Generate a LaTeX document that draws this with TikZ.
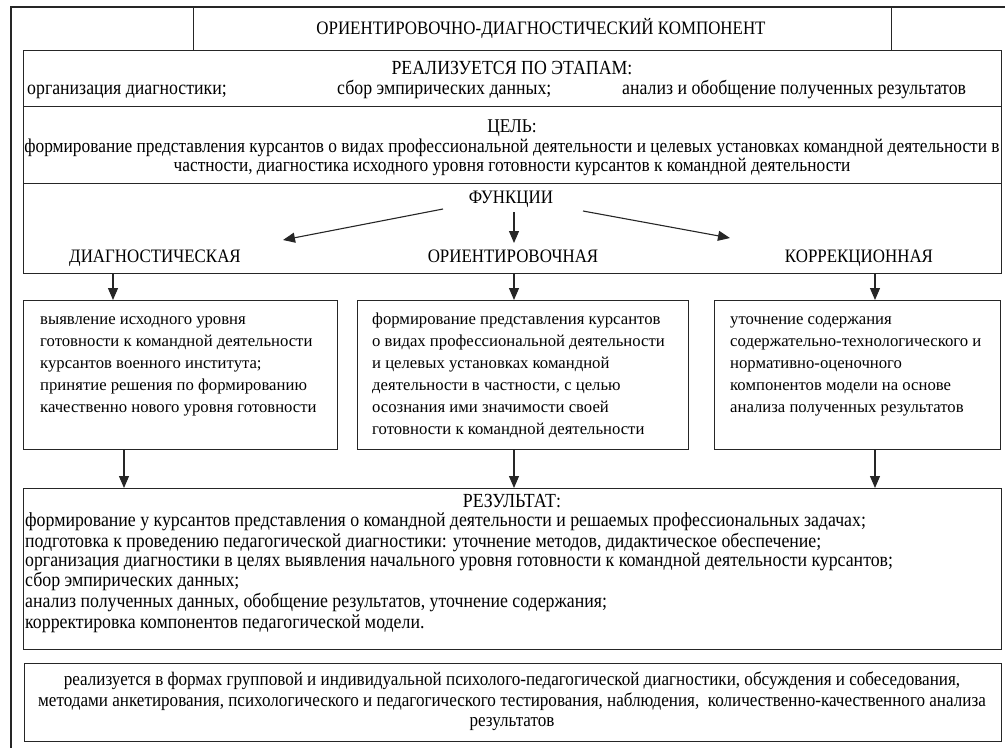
\documentclass[tikz,border=0pt]{standalone}
\usepackage{fontspec}
\setmainfont{Liberation Serif}
\newfontfamily\cond[FakeStretch=0.89]{Liberation Serif}
\usetikzlibrary{arrows.meta}
\newcommand{\cf}[1]{\cond\fontsize{#1}{19.5}\selectfont}
\tikzset{
  frame/.style={draw=black!85, line width=1.1pt},
  box/.style={frame, rectangle, inner sep=0pt, anchor=north west},
  ct/.style={font=\cf{19}, inner sep=0pt, anchor=base},
  cblock/.style={font=\cf{19.5}, inner sep=0pt, align=center, anchor=north},
  lblock/.style={font=\cf{20}, inner sep=0pt, align=left, anchor=north west},
  bt/.style={font=\fontsize{16.7}{22}\selectfont, inner sep=0pt, align=left, anchor=north west},
  arr/.style={frame, -{Triangle[length=12pt,width=10pt]}}
}
\begin{document}
\begin{tikzpicture}[x=1pt,y=-1pt]
\useasboundingbox (0,0) rectangle (1005,748);
% outer frame
\coordinate (otr) at (1005,7);
\coordinate (obl) at (11,748);
\draw[frame] (otr) -- (11,7) -- (obl);
% title cell
\node[box, minimum width=698pt, minimum height=43pt] (title) at (193,7) {};
\node[ct] (titletxt) at (541,34) {ОРИЕНТИРОВОЧНО-ДИАГНОСТИЧЕСКИЙ КОМПОНЕНТ};
% stages
\node[box, minimum width=978pt, minimum height=56pt] (stages) at (23,50) {};
\node[ct, font=\cf{20}] (stagehead) at (512,74) {РЕАЛИЗУЕТСЯ ПО ЭТАПАМ:};
\node[ct, font=\cf{20}, anchor=base west] (st1) at (27,94) {организация диагностики;};
\node[ct, font=\cf{20}, anchor=base west] (st2) at (337,94) {сбор эмпирических данных;};
\node[ct, font=\cf{20}, anchor=base west] (st3) at (622,94) {анализ и обобщение полученных результатов};
% goal
\node[box, minimum width=978pt, minimum height=77pt] (goal) at (23,106) {};
\node[cblock] (goaltxt) at (512,119) {\strut ЦЕЛЬ:\\
формирование представления курсантов о видах профессиональной деятельности и целевых установках командной деятельности в\\
частности, диагностика исходного уровня готовности курсантов к командной деятельности};
% functions
\node[box, minimum width=978pt, minimum height=90pt] (funcs) at (23,183) {};
\node[ct] (fhead) at (511,203) {ФУНКЦИИ};
\node[ct] (fdiag) at (155,262) {ДИАГНОСТИЧЕСКАЯ};
\node[ct] (forient) at (513,262) {ОРИЕНТИРОВОЧНАЯ};
\node[ct] (fcorr) at (859,262) {КОРРЕКЦИОННАЯ};
\coordinate (a1s) at (443,209); \coordinate (a1e) at (283,240);
\coordinate (a2s) at (514,212); \coordinate (a2e) at (514,243);
\coordinate (a3s) at (583,211); \coordinate (a3e) at (730,238);
\draw[arr] (a1s) -- (a1e);
\draw[arr] (a2s) -- (a2e);
\draw[arr] (a3s) -- (a3e);
% three boxes
\node[box, minimum width=314pt, minimum height=149pt] (bl) at (23,300) {};
\node[box, minimum width=331pt, minimum height=149pt] (bm) at (357,300) {};
\node[box, minimum width=286pt, minimum height=149pt] (br) at (714,300) {};
\node[bt] (bltxt) at (40,309) {\strut выявление исходного уровня\\
готовности к командной деятельности\\
курсантов военного института;\\
принятие решения по формированию\\
качественно нового уровня готовности};
\node[bt] (bmtxt) at (372,309) {\strut формирование представления курсантов\\
о видах профессиональной деятельности\\
и целевых установках командной\\
деятельности в частности, с целью\\
осознания ими значимости своей\\
готовности к командной деятельности};
\node[bt] (brtxt) at (730,309) {\strut уточнение содержания\\
содержательно-технологического и\\
нормативно-оценочного\\
компонентов модели на основе\\
анализа полученных результатов};
% result
\node[box, minimum width=978pt, minimum height=161pt] (res) at (23,488) {};
\node[ct, font=\cf{20}] (reshead) at (512,507) {РЕЗУЛЬТАТ:};
\node[lblock] (restxt) at (25,512) {\strut формирование у курсантов представления о командной деятельности и решаемых профессиональных задачах;\\
подготовка к проведению педагогической диагностики: уточнение методов, дидактическое обеспечение;\\
организация диагностики в целях выявления начального уровня готовности к командной деятельности курсантов;\\
сбор эмпирических данных;\\[2pt]
анализ полученных данных, обобщение результатов, уточнение содержания;\\[1pt]
корректировка компонентов педагогической модели.};
% bottom
\node[cblock, font=\cf{19.2}] (formstxt) at (512,672) {\strut реализуется в формах групповой и индивидуальной психолого-педагогической диагностики, обсуждения и собеседования,\\
методами анкетирования, психологического и педагогического тестирования, наблюдения,\ \ количественно-качественного анализа\\
результатов};
\node[box, minimum width=977pt, minimum height=78pt] (forms) at (24,663) {};
% connectors
\coordinate (x1) at (113,0); \coordinate (x2) at (514,0); \coordinate (x3) at (875,0);
\coordinate (y1) at (124,0);
\draw[arr] (funcs.south -| x1) -- (bl.north -| x1);
\draw[arr] (funcs.south -| x2) -- (bm.north -| x2);
\draw[arr] (funcs.south -| x3) -- (br.north -| x3);
\draw[arr] (bl.south -| y1) -- (res.north -| y1);
\draw[arr] (bm.south -| x2) -- (res.north -| x2);
\draw[arr] (br.south -| x3) -- (res.north -| x3);
\end{tikzpicture}
\end{document}
